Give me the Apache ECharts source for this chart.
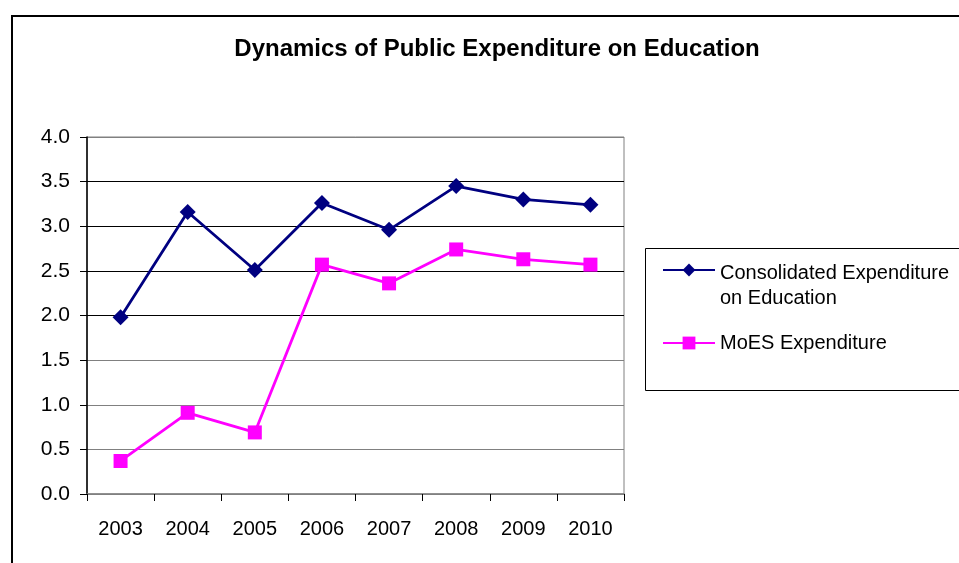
<!DOCTYPE html>
<html><head><meta charset="utf-8">
<script src="https://cdn.jsdelivr.net/npm/echarts@6/dist/echarts.min.js"></script>
<style>html,body{margin:0;padding:0;background:#fff}#c{width:959px;height:563px}</style>
</head><body><div id="c"></div>
<script>
var years = ['2003','2004','2005','2006','2007','2008','2009','2010'];
var consolidated = [1.98, 3.16, 2.51, 3.26, 2.96, 3.45, 3.30, 3.24];
var moes = [0.37, 0.91, 0.69, 2.57, 2.36, 2.74, 2.63, 2.57];
var seriesNames = ['Consolidated Expenditure on Education', 'MoES Expenditure'];

var font = 'Liberation Sans, Arial, sans-serif';
var chart = echarts.init(document.getElementById('c'), null, {renderer: 'canvas'});
chart.setOption({
  animation: false,
  backgroundColor: '#fff',
  title: {
    text: 'Dynamics of Public Expenditure on Education',
    left: 492, top: 32, textAlign: 'center',
    textStyle: {fontFamily: font, fontSize: 24, fontWeight: 'bold', color: '#000'}
  },
  graphic: [
    {type: 'rect', shape: {x: 12, y: 16, width: 1000, height: 700}, style: {fill: 'none', stroke: '#000', lineWidth: 2}, z: -1},
    {type: 'rect', shape: {x: 645.5, y: 248.5, width: 400, height: 142}, style: {fill: 'none', stroke: '#000', lineWidth: 1}, z: -1}
  ],
  legend: [
    {
      data: [seriesNames[0]], left: 662, top: 235, orient: 'vertical',
      itemWidth: 52, itemHeight: 16, padding: 0,
      formatter: function () { return '{s| }\n{a|Consolidated Expenditure}\n{a|on Education}'; },
      textStyle: {
        fontFamily: font, fontSize: 20, color: '#000',
        rich: {
          s: {fontFamily: font, fontSize: 20, lineHeight: 31},
          a: {fontFamily: font, fontSize: 20, lineHeight: 25, color: '#000'}
        }
      }
    },
    {
      data: [seriesNames[1]], left: 662, top: 333, orient: 'vertical',
      itemWidth: 52, itemHeight: 16, padding: 0,
      textStyle: {fontFamily: font, fontSize: 20, color: '#000'}
    }
  ],
  grid: {left: 87, right: 335, top: 137, bottom: 69, show: true, borderColor: '#808080', borderWidth: 1},
  xAxis: {
    type: 'category', data: years, boundaryGap: true,
    axisLine: {lineStyle: {color: '#808080', width: 1.5}},
    axisTick: {show: true, length: 7, lineStyle: {color: '#000'}},
    axisLabel: {fontFamily: font, fontSize: 20, color: '#000', margin: 25}
  },
  yAxis: {
    type: 'value', min: 0, max: 4, interval: 0.5,
    axisLine: {show: true, lineStyle: {color: '#000', width: 1.5}},
    axisTick: {show: true, length: 7, lineStyle: {color: '#000'}},
    axisLabel: {fontFamily: font, fontSize: 21, color: '#000', margin: 17, formatter: function (v) { return v.toFixed(1); }},
    splitLine: {show: true, lineStyle: {color: ['#808080', '#808080', '#808080', '#808080', '#000', '#000', '#000', '#000', '#808080'], width: 1.2}}
  },
  series: [
    {
      name: seriesNames[0], type: 'line', data: consolidated,
      symbol: 'diamond', symbolSize: 16, color: '#000080',
      lineStyle: {width: 2.8, color: '#000080'}, itemStyle: {color: '#000080'}
    },
    {
      name: seriesNames[1], type: 'line', data: moes,
      symbol: 'rect', symbolSize: 14, color: '#FF00FF',
      lineStyle: {width: 2.8, color: '#FF00FF'}, itemStyle: {color: '#FF00FF'}
    }
  ]
});
</script></body></html>
